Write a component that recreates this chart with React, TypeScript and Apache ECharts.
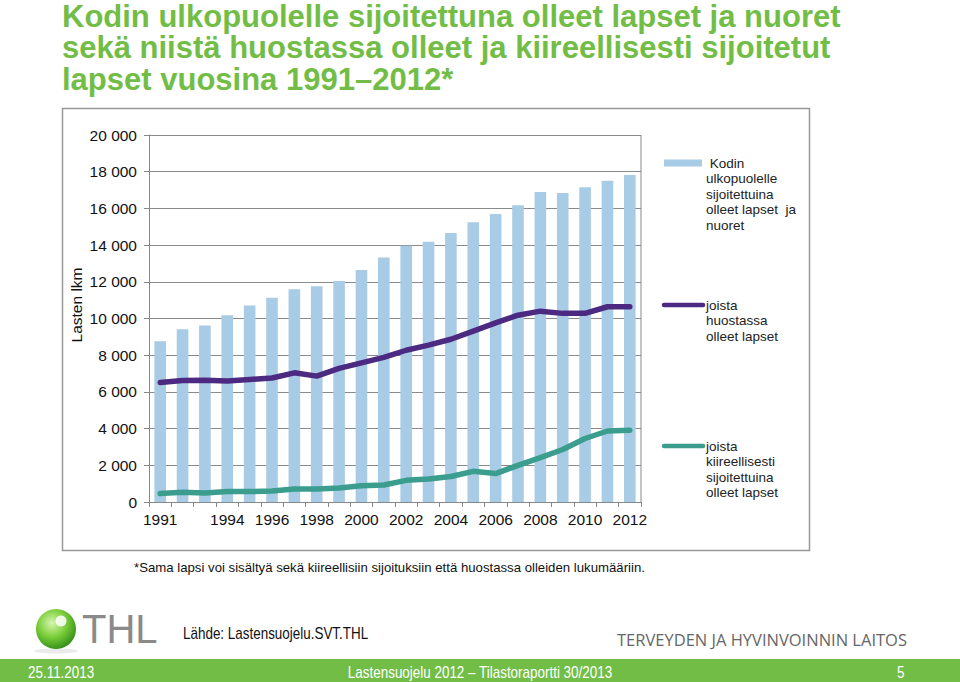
import React, { useEffect, useRef } from "react";
import * as echarts from "echarts";

const years = [
  "1991", "1992", "1993", "1994", "1995", "1996", "1997", "1998", "1999", "2000", "2001",
  "2002", "2003", "2004", "2005", "2006", "2007", "2008", "2009", "2010", "2011", "2012",
];
const placedOutside = [
  8765, 9420, 9620, 10180, 10710, 11130, 11600, 11760, 12050, 12640, 13330,
  13960, 14180, 14660, 15240, 15690, 16170, 16890, 16840, 17150, 17510, 17820,
];
const inCare = [
  6510, 6620, 6640, 6600, 6680, 6760, 7040, 6860, 7280, 7580, 7880,
  8270, 8550, 8870, 9310, 9760, 10180, 10400, 10280, 10280, 10640, 10640,
];
const emergency = [
  460, 530, 490, 570, 570, 600, 710, 710, 760, 890, 930,
  1180, 1250, 1390, 1670, 1550, 2000, 2420, 2860, 3460, 3870, 3910,
];
const shownYearLabels = ["1991", "1994", "1996", "1998", "2000", "2002", "2004", "2006", "2008", "2010", "2012"];

const seriesNames = [
  "Kodin ulkopuolelle sijoitettuina olleet lapset  ja nuoret",
  "joista huostassa olleet lapset",
  "joista kiireellisesti sijoitettuina olleet lapset",
];
const legendLines = [
  [" Kodin", "ulkopuolelle", "sijoitettuina", "olleet lapset  ja", "nuoret"],
  ["joista", "huostassa", "olleet lapset"],
  ["joista", "kiireellisesti", "sijoitettuina", "olleet lapset"],
];
const titleLines = [
  "Kodin ulkopuolelle sijoitettuna olleet lapset ja nuoret",
  "sekä niistä huostassa olleet ja kiireellisesti sijoitetut",
  "lapset vuosina 1991–2012*",
];
const footnote = "*Sama lapsi voi sisältyä sekä kiireellisiin sijoituksiin että huostassa olleiden lukumääriin.";
const source = "Lähde: Lastensuojelu.SVT.THL";
const institute = "TERVEYDEN JA HYVINVOINNIN LAITOS";
const footerDate = "25.11.2013";
const footerCenter = "Lastensuojelu 2012 – Tilastoraportti 30/2013";
const footerPage = "5";

const BAR = "#a9cce6";
const PURPLE = "#4d2a82";
const TEAL = "#3a9d8e";
const GREEN = "#72bd46";
const FONT = "Liberation Sans, Arial, sans-serif";
const NARROW_SCALE = 0.84;

function fmt(v: number) {
  if (v < 1000) return String(v);
  const th = Math.floor(v / 1000);
  const rest = String(v % 1000).padStart(3, "0");
  return th + " " + rest;
}

export default function App() {
  const ref = useRef<HTMLDivElement>(null);
  useEffect(() => {
    if (!ref.current) return;
    const chart = echarts.init(ref.current, undefined, { renderer: "svg" });
    const legendY = [163, 305, 446];
    const legendGraphics: any[] = [];
    legendLines.forEach((lines, i) => {
      if (i === 0) {
        legendGraphics.push({
          type: "rect",
          shape: { x: 664, y: legendY[i] - 3.5, width: 38, height: 7 },
          style: { fill: BAR },
        });
      } else {
        legendGraphics.push({
          type: "line",
          shape: { x1: 664, y1: legendY[i], x2: 703, y2: legendY[i] },
          style: { stroke: i === 1 ? PURPLE : TEAL, lineWidth: 4.5, lineCap: "round" },
        });
      }
      legendGraphics.push({
        type: "text",
        x: 706,
        y: legendY[i] - 7.75,
        style: {
          text: lines.join("\n"),
          font: "13.5px " + FONT,
          fill: "#222",
          lineHeight: 15.5,
          verticalAlign: "top",
        },
      });
    });
    const titleGraphics = titleLines.map((t, i) => ({
      type: "text",
      x: 62,
      y: 16 + i * 31.5,
      style: {
        text: t,
        font: "bold 31px " + FONT,
        fill: GREEN,
        verticalAlign: "middle",
      },
    }));

    chart.setOption({
      animation: false,
      backgroundColor: "#fff",
      grid: { left: 149, top: 135, width: 492, height: 367, containLabel: false },
      xAxis: {
        type: "category",
        data: years,
        axisLine: { lineStyle: { color: "#888", width: 1 } },
        axisTick: { show: true, length: 5, lineStyle: { color: "#888" }, interval: 0 },
        axisLabel: {
          interval: (_idx: number, val: string) => shownYearLabels.includes(val),
          color: "#111",
          fontSize: 15.5,
          fontFamily: FONT,
          margin: 9,
        },
      },
      yAxis: {
        type: "value",
        min: 0,
        max: 20000,
        interval: 2000,
        axisLine: { show: true, lineStyle: { color: "#888" } },
        axisTick: { show: true, length: 5, lineStyle: { color: "#888" } },
        splitLine: { lineStyle: { color: "#8a8a8a", width: 1 } },
        axisLabel: {
          formatter: (v: number) => fmt(v),
          color: "#111",
          fontSize: 15.5,
          fontFamily: FONT,
          margin: 12,
        },
      },
      series: [
        {
          name: seriesNames[0],
          type: "bar",
          data: placedOutside,
          barWidth: "52%",
          itemStyle: { color: BAR },
          z: 1,
        },
        {
          name: seriesNames[1],
          type: "line",
          data: inCare,
          showSymbol: false,
          symbol: "none",
          lineStyle: { color: PURPLE, width: 5.5, cap: "round", join: "round" },
          itemStyle: { color: PURPLE },
          z: 3,
        },
        {
          name: seriesNames[2],
          type: "line",
          data: emergency,
          showSymbol: false,
          symbol: "none",
          lineStyle: { color: TEAL, width: 5.5, cap: "round", join: "round" },
          itemStyle: { color: TEAL },
          z: 3,
        },
      ],
      graphic: [
        ...titleGraphics,
        {
          type: "rect",
          shape: { x: 62.5, y: 108.5, width: 747, height: 442 },
          style: { fill: "none", stroke: "#999", lineWidth: 1.5 },
          z: -1,
        },
        {
          type: "line",
          shape: { x1: 641, y1: 135, x2: 641, y2: 502 },
          style: { stroke: "#888", lineWidth: 1 },
        },
        {
          type: "text",
          x: 76,
          y: 305,
          rotation: Math.PI / 2,
          style: {
            text: "Lasten lkm",
            font: "15.5px " + FONT,
            fill: "#111",
            align: "center",
            verticalAlign: "middle",
          },
        },
        ...legendGraphics,
        {
          type: "text",
          x: 134,
          y: 567,
          style: { text: footnote, font: "13.2px " + FONT, fill: "#111", verticalAlign: "middle" },
        },
        {
          type: "circle",
          shape: { cx: 56, cy: 629, r: 20 },
          style: {
            fill: new echarts.graphic.RadialGradient(0.4, 0.35, 0.7, [
              { offset: 0, color: "#d8f5b0" },
              { offset: 0.5, color: "#7ccf3a" },
              { offset: 1, color: "#2f8a16" },
            ]),
          },
        },
        {
          type: "circle",
          shape: { cx: 61, cy: 621, r: 5.5 },
          style: { fill: "rgba(255,255,255,0.85)" },
        },
        {
          type: "ellipse",
          shape: { cx: 56, cy: 651, rx: 22, ry: 2.5 },
          style: { fill: "rgba(0,0,0,0.08)" },
        },
        {
          type: "text",
          x: 82,
          y: 629,
          style: { text: "THL", font: "40px " + FONT, fill: "#8a8a8a", verticalAlign: "middle" },
        },
        {
          type: "text",
          x: 183,
          y: 634,
          scaleX: NARROW_SCALE,
          style: { text: source, font: "16px " + FONT, fill: "#111", verticalAlign: "middle" },
        },
        {
          type: "text",
          x: 907,
          y: 639,
          style: { text: institute, font: "16.5px Open Sans, " + FONT, fill: "#666", align: "right", verticalAlign: "middle" },
        },
        {
          type: "rect",
          shape: { x: 0, y: 659, width: 960, height: 23 },
          style: { fill: GREEN },
        },
        {
          type: "text",
          x: 28,
          y: 673,
          scaleX: NARROW_SCALE,
          style: { text: footerDate, font: "16px " + FONT, fill: "#fff", verticalAlign: "middle" },
        },
        {
          type: "text",
          x: 480,
          y: 673,
          scaleX: NARROW_SCALE,
          style: { text: footerCenter, font: "16px " + FONT, fill: "#fff", align: "center", verticalAlign: "middle" },
        },
        {
          type: "text",
          x: 897,
          y: 673,
          scaleX: NARROW_SCALE,
          style: { text: footerPage, font: "16px " + FONT, fill: "#fff", verticalAlign: "middle" },
        },
      ],
    });
    return () => chart.dispose();
  }, []);
  return (
    <div
      ref={ref}
      style={{ position: "fixed", left: 0, top: 0, width: 960, height: 682, background: "#fff" }}
    />
  );
}
